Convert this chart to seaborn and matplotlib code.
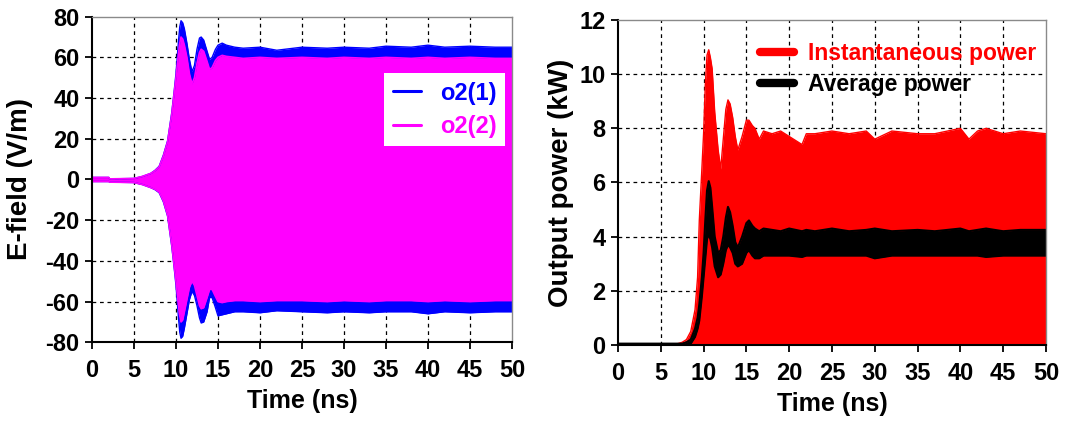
import numpy as np
import pandas as pd
import matplotlib
matplotlib.use("Agg")
import matplotlib.pyplot as plt
import seaborn as sns

# ---------------- data (envelopes) ----------------
t_left = [0, 2, 2.1, 5, 6, 7, 7.5, 8, 8.5, 9, 9.5, 9.8, 10, 10.3, 10.45, 10.6, 10.8, 11, 11.3, 11.6,
          11.9, 12.2, 12.5, 12.8, 13.0, 13.3, 13.7, 14.0, 14.3, 14.7, 15, 15.5, 16, 17, 18, 20,
          22, 25, 28, 30, 33, 35, 38, 40, 42, 45, 48, 50]
o21_upper = [1, 1, 0.3, 0.5, 1.5, 3, 4.5, 6.5, 12, 19, 33, 44, 52, 68, 75, 78, 77, 74, 67, 59,
             53, 56, 64, 69.5, 70, 68.5, 63, 59, 60, 64, 66, 67, 66, 65, 64.5, 65,
             63.5, 65, 64.5, 65, 64.5, 65.5, 65, 66, 65, 65.5, 65, 65]
o21_lower = [-1, -1, -1.3, -1.5, -2.5, -4, -5, -6.5, -11, -18, -33, -44, -52, -68, -75, -78, -77, -73, -66, -59,
             -55, -57, -62, -68, -70.5, -70, -65, -58, -58, -63, -67, -66.5, -66, -65, -65, -65.5,
             -64.5, -65, -65.5, -65, -65.5, -65, -65, -66, -65, -65.5, -65, -65]
o22_upper = [1, 1, 0.3, 0.5, 1.5, 3, 4.3, 6.2, 11.5, 18.5, 32, 43, 50, 62, 67, 70, 69, 66, 60, 52,
             47, 50, 57, 62.5, 64, 63, 58, 54, 55, 58.5, 60, 61, 60.5, 60, 59.5, 60,
             59.5, 60, 59.5, 60, 59.5, 60, 59.5, 60, 59.5, 60, 59.5, 59.5]
o22_lower = [-1, -1, -1.3, -1.5, -2.5, -4, -4.8, -6.2, -10.5, -17.5, -32, -43, -50, -62, -67, -70, -69, -65, -59, -53,
             -50, -52, -57, -62, -63.5, -63, -58, -54, -54, -57.5, -60, -60.5, -60, -59.5, -59.5, -60,
             -59.5, -59.5, -60, -59.5, -60, -59.5, -59.5, -60, -59.5, -60, -59.5, -59.5]

t_right = [0, 5, 7, 7.5, 8, 8.5, 9, 9.3, 9.5, 9.8, 10, 10.2, 10.4, 10.6, 10.8, 11, 11.3, 11.7, 12, 12.3,
           12.6, 12.85, 13.1, 13.4, 13.7, 14, 14.5, 15, 15.3, 15.7, 16, 16.5, 17, 18, 19, 20, 21.5, 22,
           23, 25, 27, 29, 30, 32, 35, 37, 40, 41, 42, 43, 45, 47, 50]
inst_power = [0.02, 0.02, 0.05, 0.1, 0.2, 0.5, 1.3, 2.5, 4.6, 6.5, 7.8, 9.6, 10.7, 10.9, 10.6, 10.2, 8.6, 7.2, 6.5, 7.6,
              8.7, 9.05, 8.9, 8.4, 7.7, 7.2, 7.7, 8.3, 8.3, 8.1, 8.0, 7.6, 7.9, 7.8, 7.9, 7.7, 7.4, 7.8,
              7.8, 7.9, 7.8, 7.9, 7.6, 7.9, 7.8, 7.8, 8.0, 7.6, 7.9, 8.0, 7.8, 7.9, 7.8]
avg_upper = [0.05, 0.05, 0.05, 0.05, 0.1, 0.2, 0.6, 1.0, 1.5, 2.5, 3.4, 4.6, 5.7, 6.05, 5.8, 5.1, 4.0, 3.4, 3.5, 4.0,
             4.7, 5.1, 4.9, 4.4, 3.8, 3.6, 4.0, 4.5, 4.6, 4.4, 4.3, 4.2, 4.3, 4.25, 4.2, 4.3, 4.2, 4.25,
             4.2, 4.3, 4.2, 4.25, 4.3, 4.2, 4.25, 4.2, 4.3, 4.2, 4.25, 4.3, 4.2, 4.25, 4.25]
avg_lower = [-0.05, -0.05, -0.05, -0.05, 0.0, 0.05, 0.3, 0.6, 0.9, 1.8, 2.5, 3.2, 3.9, 4.1, 3.9, 3.6, 2.9, 2.5, 2.6, 3.0,
             3.5, 3.7, 3.6, 3.4, 3.0, 2.9, 3.0, 3.4, 3.5, 3.3, 3.2, 3.2, 3.3, 3.3, 3.3, 3.3, 3.25, 3.3,
             3.3, 3.3, 3.3, 3.3, 3.2, 3.3, 3.3, 3.3, 3.3, 3.3, 3.3, 3.25, 3.3, 3.3, 3.3]

x_ticks = [0, 5, 10, 15, 20, 25, 30, 35, 40, 45, 50]
left_yticks = [-80, -60, -40, -20, 0, 20, 40, 60, 80]
right_yticks = [0, 2, 4, 6, 8, 10, 12]

# ---------------- style ----------------
sns.set_style("white")
plt.rcParams["font.family"] = ["Liberation Sans", "DejaVu Sans"]
plt.rcParams["font.weight"] = "bold"
plt.rcParams["axes.labelweight"] = "bold"
plt.rcParams["axes.unicode_minus"] = False
for k in ["text.color", "axes.labelcolor", "xtick.color", "ytick.color"]:
    plt.rcParams[k] = "black"

BLUE = "#0000FF"
MAGENTA = "#FF00FF"
RED = "#FF0000"

fig = plt.figure(figsize=(10.77, 4.30), dpi=100)
axL = fig.add_axes([0.0854, 0.2040, 0.3900, 0.7572])
axR = fig.add_axes([0.5738, 0.1977, 0.3974, 0.7558])


def style_axes(ax, yticks, ylim, ylabel, labelpad):
    ax.set_xlim(0, 50)
    ax.set_ylim(*ylim)
    ax.set_xticks(x_ticks)
    ax.set_yticks(yticks)
    ax.set_axisbelow(True)
    ax.grid(True, color="black", linestyle=(0, (3, 3)), linewidth=0.9)
    for tk in [ax.xaxis.get_major_ticks()[0], ax.xaxis.get_major_ticks()[-1],
               ax.yaxis.get_major_ticks()[0], ax.yaxis.get_major_ticks()[-1]]:
        tk.gridline.set_visible(False)
    for s in ["top", "right"]:
        ax.spines[s].set_color("#8a8a8a")
        ax.spines[s].set_linewidth(1.0)
    for s in ["left", "bottom"]:
        ax.spines[s].set_color("black")
        ax.spines[s].set_linewidth(1.5)
    ax.tick_params(axis="both", which="major", direction="out", length=5, width=1.3,
                   color="black", labelcolor="black", labelsize=17, left=True, bottom=True)
    ax.tick_params(axis="x", pad=7)
    ax.tick_params(axis="y", pad=4)
    for lab in ax.get_xticklabels() + ax.get_yticklabels():
        lab.set_fontweight("bold")
    ax.set_xlabel("Time (ns)", fontsize=18, fontweight="bold", labelpad=5, color="black")
    ax.set_ylabel(ylabel, fontsize=20, fontweight="bold", labelpad=labelpad, color="black")


# ---------------- left panel ----------------
dfL = pd.DataFrame({"t": t_left, "b_up": o21_upper, "b_lo": o21_lower,
                    "m_up": o22_upper, "m_lo": o22_lower})
axL.fill_between(dfL["t"], dfL["b_lo"], dfL["b_up"], color=BLUE, linewidth=0)
sns.lineplot(data=dfL, x="t", y="b_up", color=BLUE, linewidth=1.0, ax=axL,
             estimator=None, label="o2(1)")
sns.lineplot(data=dfL, x="t", y="b_lo", color=BLUE, linewidth=1.0, ax=axL,
             estimator=None, label="_nolegend_")
axL.fill_between(dfL["t"], dfL["m_lo"], dfL["m_up"], color=MAGENTA, linewidth=0)
sns.lineplot(data=dfL, x="t", y="m_up", color=MAGENTA, linewidth=1.2, ax=axL,
             estimator=None, label="o2(2)")
sns.lineplot(data=dfL, x="t", y="m_lo", color=MAGENTA, linewidth=1.2, ax=axL,
             estimator=None, label="_nolegend_")
style_axes(axL, left_yticks, (-80, 80), "E-field (V/m)", 9)

legL = axL.legend(loc="upper right", bbox_to_anchor=(0.983, 0.826), borderaxespad=0,
                  frameon=True, fancybox=False, framealpha=1.0, facecolor="white",
                  edgecolor="none", prop={"size": 17, "weight": "bold"}, handlelength=1.2,
                  handletextpad=0.8, labelspacing=0.45, borderpad=0.35,
                  labelcolor="linecolor")
for h in legL.legend_handles:
    h.set_linewidth(2.2)

# ---------------- right panel ----------------
dfR = pd.DataFrame({"t": t_right, "inst": inst_power, "a_up": avg_upper, "a_lo": avg_lower})
axR.fill_between(dfR["t"], 0, dfR["inst"], color=RED, linewidth=0)
sns.lineplot(data=dfR, x="t", y="inst", color=RED, linewidth=1.0, ax=axR,
             estimator=None, label="Instantaneous power")
axR.fill_between(dfR["t"], dfR["a_lo"], dfR["a_up"], color="black", linewidth=0)
sns.lineplot(data=dfR, x="t", y="a_up", color="black", linewidth=1.5, ax=axR,
             estimator=None, label="Average power")
sns.lineplot(data=dfR, x="t", y="a_lo", color="black", linewidth=1.5, ax=axR,
             estimator=None, label="_nolegend_")
style_axes(axR, right_yticks, (0, 12), "Output power (kW)", 4)

legR = axR.legend(loc="upper left", bbox_to_anchor=(0.315, 0.953), borderaxespad=0,
                  frameon=False, prop={"size": 16.5, "weight": "bold"}, handlelength=1.5,
                  handletextpad=0.6, labelspacing=0.36, borderpad=0.3)
for h in legR.legend_handles:
    h.set_linewidth(6)
    h.set_solid_capstyle("round")
for txt, c in zip(legR.get_texts(), [RED, "black"]):
    txt.set_color(c)

fig.savefig("out.png", dpi=100)
